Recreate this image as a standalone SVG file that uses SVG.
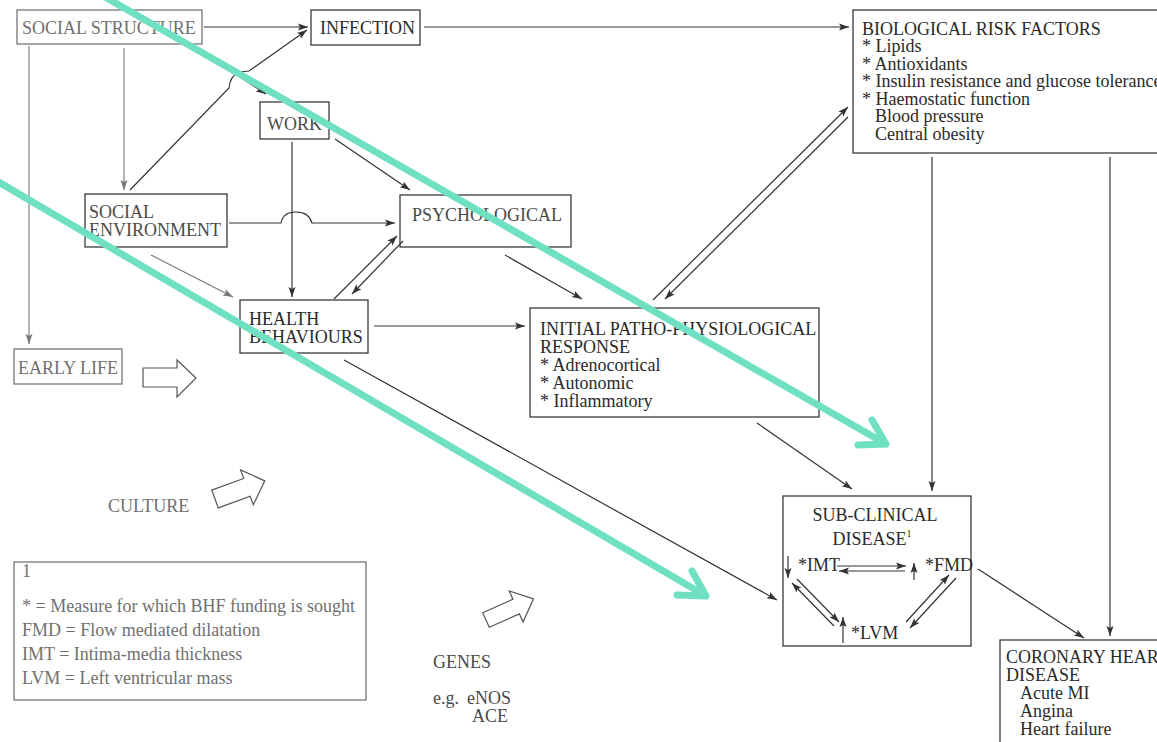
<svg xmlns="http://www.w3.org/2000/svg" width="1157" height="742" viewBox="0 0 1157 742">
<style>
text{font-family:"Liberation Serif","Times New Roman",serif;font-size:18px;fill:#2a2a2a}
.g{fill:#707070}
.m{fill:#4a4a4a}
.box{fill:none;stroke:#3a3a3a;stroke-width:1.3}
.gbox{fill:none;stroke:#6a6a6a;stroke-width:1.2}
.c{fill:none;stroke:#333;stroke-width:1.2}
.cg{fill:none;stroke:#777;stroke-width:1.1}
.blk{fill:#fff;stroke:#555;stroke-width:1.2}
.hl{fill:none;stroke:#6fe0c2;stroke-width:7;stroke-linecap:round;stroke-linejoin:round}
</style>
<defs>
<marker id="a" viewBox="0 0 10 10" refX="10" refY="5" markerWidth="10" markerHeight="10" markerUnits="userSpaceOnUse" orient="auto">
<path d="M0,1.5 L10,5 L0,8.5 L2,5 Z" fill="#333"/>
</marker>
<marker id="ag" viewBox="0 0 10 10" refX="10" refY="5" markerWidth="10" markerHeight="10" markerUnits="userSpaceOnUse" orient="auto">
<path d="M0,1.5 L10,5 L0,8.5 L2,5 Z" fill="#777"/>
</marker>
</defs>
<rect width="1157" height="742" fill="#fff"/>

<g id="connectors">
<line class="c" x1="204" y1="27" x2="308" y2="27" marker-end="url(#a)"/>
<line class="c" x1="424" y1="27" x2="849" y2="27" marker-end="url(#a)"/>
<path class="c" d="M130,190 L229,88 Q230,76 239,72 L249,71 L307,30" marker-end="url(#a)"/>
<line class="c" x1="190" y1="44" x2="266" y2="94" marker-end="url(#a)"/>
<line class="cg" x1="29" y1="46" x2="29" y2="344" marker-end="url(#ag)"/>
<line class="cg" x1="124" y1="48" x2="124" y2="190" marker-end="url(#ag)"/>
<line class="c" x1="335" y1="139" x2="410" y2="190" marker-end="url(#a)"/>
<line class="c" x1="292" y1="142" x2="292" y2="297" marker-end="url(#a)"/>
<path class="c" d="M229,223 L281,223 Q283,212 296,212 Q309,212 312,223 L395,223" marker-end="url(#a)"/>
<line class="cg" x1="151" y1="255" x2="233" y2="297" marker-end="url(#ag)"/>
<line class="c" x1="334" y1="299" x2="397" y2="236" marker-end="url(#a)"/>
<line class="c" x1="403" y1="241" x2="352" y2="294" marker-end="url(#a)"/>
<line class="c" x1="374" y1="326" x2="525" y2="326" marker-end="url(#a)"/>
<line class="c" x1="505" y1="255" x2="582" y2="299" marker-end="url(#a)"/>
<line class="c" x1="653" y1="300" x2="848" y2="107" marker-end="url(#a)"/>
<line class="c" x1="848" y1="117" x2="665" y2="299" marker-end="url(#a)"/>
<line class="c" x1="344" y1="360" x2="777" y2="600" marker-end="url(#a)"/>
<line class="c" x1="757" y1="423" x2="852" y2="489" marker-end="url(#a)"/>
<line class="c" x1="932" y1="157" x2="932" y2="491" marker-end="url(#a)"/>
<line class="c" x1="1110" y1="157" x2="1110" y2="636" marker-end="url(#a)"/>
<line class="c" x1="978" y1="569" x2="1084" y2="638" marker-end="url(#a)"/>
</g>

<g id="social-structure">
<rect class="gbox" x="17" y="10" width="185" height="34"/>
<text class="g" x="22" y="34">SOCIAL STRUCTURE</text>
</g>
<g id="infection">
<rect class="box" x="311" y="10" width="109" height="35"/>
<text x="320" y="34">INFECTION</text>
</g>
<g id="work">
<rect class="box" x="260" y="102" width="69" height="37"/>
<text class="m" x="267" y="130" font-size="17">WORK</text>
</g>
<g id="social-environment">
<rect class="box" x="85" y="194" width="142" height="53"/>
<text class="m" x="89" y="218">SOCIAL</text>
<text class="m" x="89" y="236">ENVIRONMENT</text>
</g>
<g id="psychological">
<rect class="box" x="400" y="195" width="171" height="52"/>
<text class="m" x="412" y="221">PSYCHOLOGICAL</text>
</g>
<g id="health-behaviours">
<rect class="box" x="240" y="300" width="128" height="53"/>
<text x="249" y="325" font-size="17.5">HEALTH</text>
<text x="249" y="343" font-size="17.5">BEHAVIOURS</text>
</g>
<g id="early-life">
<rect class="gbox" x="14" y="349" width="108" height="35"/>
<text class="g" x="18" y="374" font-size="17">EARLY LIFE</text>
<polygon class="blk" points="143,368 177,368 177,360 196,378 177,397 177,387 143,387"/>
</g>
<g id="culture">
<text class="g" x="108" y="512">CULTURE</text>
<polygon class="blk" points="0,-9.5 34,-9.5 34,-18.5 53,0 34,18.5 34,9.5 0,9.5" transform="translate(215,499) rotate(-20)"/>
</g>
<g id="genes">
<polygon class="blk" points="0,-8 33,-8 33,-17 52,0 33,17 33,8 0,8" transform="translate(486,620) rotate(-24)"/>
<text class="m" x="433" y="668" font-size="17">GENES</text>
<text class="m" x="433" y="704" font-size="17">e.g.</text>
<text class="m" x="467" y="704" font-size="17">eNOS</text>
<text class="m" x="472" y="722" font-size="17">ACE</text>
</g>
<g id="biological-risk-factors">
<rect class="box" x="853" y="10" width="320" height="143"/>
<text x="862" y="35">BIOLOGICAL RISK FACTORS</text>
<text x="862" y="52">* Lipids</text>
<text x="862" y="70">* Antioxidants</text>
<text x="862" y="87">* Insulin resistance and glucose tolerance</text>
<text x="862" y="105">* Haemostatic function</text>
<text x="875" y="122">Blood pressure</text>
<text x="875" y="140">Central obesity</text>
</g>
<g id="initial-response">
<rect class="box" x="530" y="308" width="289" height="109"/>
<text x="540" y="335">INITIAL PATHO-PHYSIOLOGICAL</text>
<text x="540" y="353">RESPONSE</text>
<text x="540" y="371">* Adrenocortical</text>
<text x="540" y="389">* Autonomic</text>
<text x="540" y="407">* Inflammatory</text>
</g>
<g id="sub-clinical-disease">
<rect class="box" x="783" y="496" width="188" height="150"/>
<text x="875" y="521" text-anchor="middle">SUB-CLINICAL</text>
<text x="872" y="545" text-anchor="middle">DISEASE<tspan font-size="10" dy="-8">1</tspan></text>
<text x="798" y="571">*IMT</text>
<text x="925" y="571">*FMD</text>
<text x="851" y="639">*LVM</text>
<line class="c" x1="788" y1="556" x2="788" y2="578" marker-end="url(#a)"/>
<line class="c" x1="914" y1="580" x2="914" y2="563" marker-end="url(#a)"/>
<line class="c" x1="843" y1="643" x2="843" y2="617" marker-end="url(#a)"/>
<line class="c" x1="837" y1="566" x2="906" y2="566" marker-end="url(#a)"/>
<line class="c" x1="905" y1="571" x2="839" y2="571" marker-end="url(#a)"/>
<line class="c" x1="834" y1="626" x2="792" y2="583" marker-end="url(#a)"/>
<line class="c" x1="797" y1="579" x2="839" y2="622" marker-end="url(#a)"/>
<line class="c" x1="906" y1="622" x2="949" y2="575" marker-end="url(#a)"/>
<line class="c" x1="956" y1="578" x2="910" y2="628" marker-end="url(#a)"/>
</g>
<g id="coronary-heart-disease">
<rect class="box" x="1000" y="640" width="180" height="120"/>
<text x="1006" y="663">CORONARY HEART</text>
<text x="1006" y="681">DISEASE</text>
<text x="1020" y="699">Acute MI</text>
<text x="1020" y="717">Angina</text>
<text x="1020" y="735">Heart failure</text>
</g>
<g id="legend">
<rect class="gbox" x="14" y="562" width="352" height="138"/>
<text class="g" x="22" y="577" font-size="10">1</text>
<text class="g" x="22" y="612">* = Measure for which BHF funding is sought</text>
<text class="g" x="22" y="636">FMD = Flow mediated dilatation</text>
<text class="g" x="22" y="660">IMT = Intima-media thickness</text>
<text class="g" x="22" y="684">LVM = Left ventricular mass</text>
</g>

<g id="highlight-arrows">
<path class="hl" d="M105,-3 L886,444 M858,445 L886,444 L872,420"/>
<path class="hl" d="M-5,180 L706,596 M677,595 L706,596 L692,571"/>
</g>
</svg>
